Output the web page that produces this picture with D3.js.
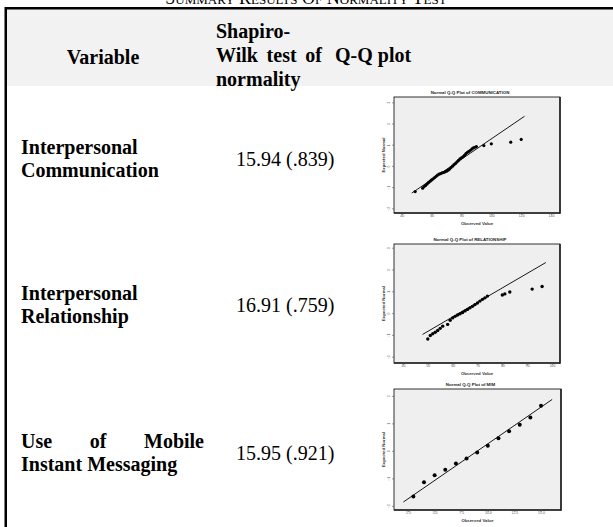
<!DOCTYPE html>
<html><head><meta charset="utf-8">
<script src="https://cdn.jsdelivr.net/npm/d3@7"></script>
<style>html,body{margin:0;padding:0;background:#fff;}svg{display:block;}</style>
</head><body>
<svg id="c" width="613" height="527"></svg>
<script>
// ---------- data ----------
const tableTitle = "SUMMARY RESULTS OF NORMALITY TEST";
const headerVariable = "Variable";
const headerSW = ["Shapiro-", "Wilk test of", "normality"];
const headerQQ = "Q-Q plot";
const variableLines = [["Interpersonal", "Communication"], ["Interpersonal", "Relationship"], ["Use of Mobile", "Instant Messaging"]];
const swValues = ["15.94 (.839)", "16.91 (.759)", "15.95 (.921)"];
const plotTitles = ["Normal Q-Q Plot of COMMUNICATION", "Normal Q-Q Plot of RELATIONSHIP", "Normal Q-Q Plot of MIM"];

// Communication
const commObs = [49, 54, 55, 56, 57, 58, 59, 60, 61, 62, 63, 64, 65, 66, 67, 68, 69, 70, 71, 72, 73, 74, 75, 76, 77, 78, 79, 80, 81, 82, 83, 84, 85, 86, 87, 88, 89, 90, 95, 100, 113, 120];
const commExp = [-1.21, -1.05, -0.97, -0.92, -0.85, -0.78, -0.72, -0.66, -0.61, -0.55, -0.49, -0.43, -0.39, -0.36, -0.33, -0.31, -0.28, -0.25, -0.2, -0.15, -0.08, -0.01, 0.06, 0.12, 0.19, 0.26, 0.33, 0.38, 0.43, 0.5, 0.58, 0.64, 0.69, 0.74, 0.8, 0.85, 0.88, 0.91, 0.96, 1.04, 1.12, 1.25];
const commLineObs = [46.7, 122.2];
const commLineExp = [-1.28, 2.34];
const commXDomain = [34.8, 146];
const commYDomain = [-2.22, 3.25];
const commXTicks = [40, 60, 80, 100, 120, 140];
const commYTicks = [3, 2, 1, 0, -1, -2];

// Relationship
const relObs = [50, 51, 52, 53, 54, 55, 56, 58, 59, 60, 61, 62, 63, 64, 65, 66, 67, 68, 69, 70, 71, 72, 73, 74, 80, 81, 83, 92, 96];
const relExp = [-1.19, -1.03, -0.95, -0.88, -0.8, -0.7, -0.6, -0.52, -0.33, -0.22, -0.15, -0.09, -0.03, 0.03, 0.1, 0.17, 0.24, 0.31, 0.39, 0.46, 0.55, 0.63, 0.7, 0.78, 0.83, 0.88, 0.97, 1.1, 1.22];
const relLineObs = [47.9, 97.5];
const relLineExp = [-0.98, 2.32];
const relXDomain = [36.4, 103.2];
const relYDomain = [-2.29, 3.17];
const relXTicks = [40, 50, 60, 70, 80, 90, 100];
const relYTicks = [3, 2, 1, 0, -1, -2];

// MIM
const mimObs = [3, 4, 5, 6, 7, 8, 9, 10, 11, 12, 13, 14, 15];
const mimExp = [-1.66, -1.14, -0.89, -0.69, -0.46, -0.28, -0.06, 0.19, 0.46, 0.71, 0.95, 1.21, 1.64];
const mimLineObs = [2.06, 16.05];
const mimLineExp = [-1.86, 1.87];
const mimXDomain = [1.18, 16.88];
const mimYDomain = [-2.15, 2.25];
const mimXTicks = [2.5, 5.0, 7.5, 10.0, 12.5, 15.0];
const mimYTicks = [2, 1, 0, -1, -2];

// ---------- drawing ----------
const svg = d3.select("#c");
const serif = "'Liberation Serif','Times New Roman',serif";
const sans = "'Liberation Sans',Arial,sans-serif";

// title (cut at the top edge, as in the source)
svg.append("text").attr("x", 306).attr("y", 4).attr("text-anchor", "middle")
  .attr("font-family", serif).attr("font-size", 18).style("font-variant", "small-caps")
  .text(tableTitle.charAt(0) + tableTitle.slice(1).toLowerCase().replace(/ (\w)/g, (m, c) => " " + c.toUpperCase()));

// header band and rules
svg.append("rect").attr("x", 7).attr("y", 9).attr("width", 606).attr("height", 77).attr("fill", "#f2f2f2");
svg.append("rect").attr("x", 5).attr("y", 7).attr("width", 608).attr("height", 2.5).attr("fill", "#000");
svg.append("rect").attr("x", 4.5).attr("y", 7).attr("width", 2.5).attr("height", 520).attr("fill", "#000");

const FS = 20;
function justify(g, words, x0, x1, y) {
  const ts = words.map(w => g.append("text").attr("y", y).text(w));
  const ws = ts.map(t => t.node().getComputedTextLength());
  const gap = (x1 - x0 - d3.sum(ws)) / (words.length - 1);
  let x = x0;
  ts.forEach((t, k) => { t.attr("x", x); x += ws[k] + gap; });
}

const hdr = svg.append("g").attr("font-family", serif).attr("font-weight", "bold").attr("font-size", FS).attr("fill", "#000");
hdr.append("text").attr("x", 103).attr("y", 64).attr("text-anchor", "middle").text(headerVariable);
hdr.append("text").attr("x", 216).attr("y", 38).text(headerSW[0]);
justify(hdr, headerSW[1].split(" "), 216, 322, 62);
hdr.append("text").attr("x", 216).attr("y", 86).text(headerSW[2]);
hdr.append("text").attr("x", 335).attr("y", 62).text(headerQQ);

// rows
const rowBase = [154, 300, 448];
variableLines.forEach((lines, i) => {
  const g = svg.append("g").attr("font-family", serif).attr("font-weight", "bold").attr("font-size", FS);
  if (i === 2) justify(g, lines[0].split(" "), 21, 204, rowBase[i]);
  else g.append("text").attr("x", 21).attr("y", rowBase[i]).text(lines[0]);
  g.append("text").attr("x", 21).attr("y", rowBase[i] + 23).text(lines[1]);
  svg.append("text").attr("x", 236).attr("y", rowBase[i] + 12).attr("font-family", serif)
    .attr("font-size", FS).text(swValues[i]);
});

// Q-Q plots
const plots = [
  {title: plotTitles[0], obs: commObs, exp: commExp, lo: commLineObs, le: commLineExp, xd: commXDomain, yd: commYDomain, xt: commXTicks, yt: commYTicks, box: [394, 97, 560, 213], r: 1.6, fmt: d3.format("d")},
  {title: plotTitles[1], obs: relObs, exp: relExp, lo: relLineObs, le: relLineExp, xd: relXDomain, yd: relYDomain, xt: relXTicks, yt: relYTicks, box: [394, 244, 560, 363], r: 1.7, fmt: d3.format("d")},
  {title: plotTitles[2], obs: mimObs, exp: mimExp, lo: mimLineObs, le: mimLineExp, xd: mimXDomain, yd: mimYDomain, xt: mimXTicks, yt: mimYTicks, box: [394, 389, 561, 510], r: 2, fmt: d3.format(".1f")}
];

plots.forEach(p => {
  const [x0, y0, x1, y1] = p.box;
  const x = d3.scaleLinear().domain(p.xd).range([x0, x1]);
  const y = d3.scaleLinear().domain(p.yd).range([y1, y0]);
  const g = svg.append("g");
  g.append("rect").attr("x", x0).attr("y", y0).attr("width", x1 - x0).attr("height", y1 - y0)
    .attr("fill", "#efefef").attr("stroke", "#000").attr("stroke-width", 0.8);
  g.append("line").attr("x1", x1).attr("x2", x1).attr("y1", y0).attr("y2", y1 + 0.8).attr("stroke", "#222").attr("stroke-width", 1.6);
  g.append("line").attr("x1", x0).attr("x2", x1).attr("y1", y1).attr("y2", y1).attr("stroke", "#222").attr("stroke-width", 1.6);

  // chart title centred over the whole chart area (axis label included)
  g.append("text").attr("x", (x0 - 14 + x1) / 2).attr("y", y0 - 3).attr("text-anchor", "middle")
    .attr("font-family", sans).attr("font-weight", "bold").attr("font-size", 4.4).attr("fill", "#222").text(p.title);

  const xa = g.append("g").attr("transform", `translate(0,${y1})`)
    .call(d3.axisBottom(x).tickValues(p.xt).tickSize(2).tickFormat(p.fmt));
  xa.select(".domain").remove();
  xa.selectAll("line").attr("stroke", "#555").attr("stroke-width", 0.6);
  xa.selectAll("text").attr("font-size", 3.5).attr("font-family", sans).attr("fill", "#555").attr("dy", "0.5em").attr("y", 2.5);

  const ya = g.append("g").attr("transform", `translate(${x0},0)`)
    .call(d3.axisLeft(y).tickValues(p.yt).tickSize(2).tickFormat(d3.format("d")));
  ya.select(".domain").remove();
  ya.selectAll("line").attr("stroke", "#555").attr("stroke-width", 0.6);
  ya.selectAll("text").attr("font-size", 3.5).attr("font-family", sans).attr("fill", "#555")
    .attr("x", null).attr("dy", null).attr("text-anchor", "middle")
    .attr("transform", "translate(-4,0) rotate(-90)");

  g.append("text").attr("x", (x0 + x1) / 2).attr("y", y1 + 12).attr("text-anchor", "middle")
    .attr("font-family", sans).attr("font-weight", "bold").attr("font-size", 4.3).attr("fill", "#333").text("Observed Value");
  g.append("text").attr("transform", `translate(${x0 - 9},${(y0 + y1) / 2}) rotate(-90)`).attr("text-anchor", "middle")
    .attr("font-family", sans).attr("font-weight", "bold").attr("font-size", 4.3).attr("fill", "#333").text("Expected Normal");

  g.append("line").attr("x1", x(p.lo[0])).attr("y1", y(p.le[0])).attr("x2", x(p.lo[1])).attr("y2", y(p.le[1]))
    .attr("stroke", "#000").attr("stroke-width", 0.9);

  g.selectAll("circle").data(p.obs.map((v, i) => [v, p.exp[i]])).join("circle")
    .attr("cx", d => x(d[0])).attr("cy", d => y(d[1])).attr("r", p.r).attr("fill", "#000");
});
</script>
</body></html>
